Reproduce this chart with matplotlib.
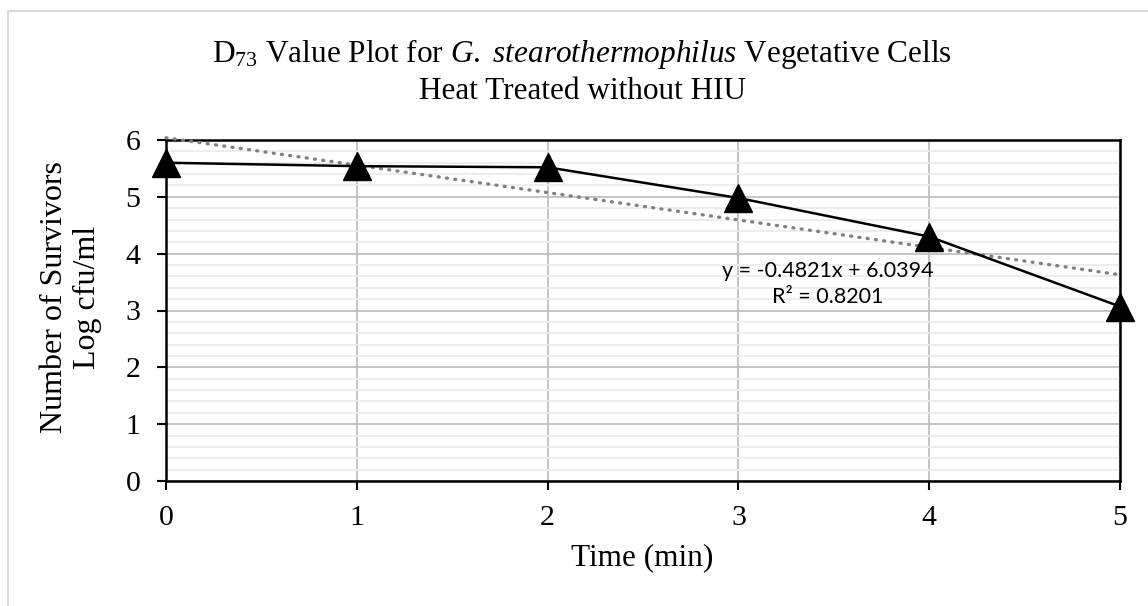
import matplotlib
matplotlib.use("Agg")
import matplotlib.pyplot as plt
from matplotlib.ticker import MultipleLocator
from matplotlib.lines import Line2D

# Data
time_min = [0, 1, 2, 3, 4, 5]
log_survivors = [5.60, 5.54, 5.52, 4.98, 4.30, 3.07]
trend_slope = -0.4821
trend_intercept = 6.0394
trend_label = "y = -0.4821x + 6.0394\nR² = 0.8201"
x_ticks = [0, 1, 2, 3, 4, 5]
y_ticks = [0, 1, 2, 3, 4, 5, 6]

plt.rcParams['font.family'] = ['Liberation Serif', 'DejaVu Serif']
plt.rcParams['mathtext.fontset'] = 'custom'
plt.rcParams['mathtext.rm'] = 'Liberation Serif'
plt.rcParams['mathtext.it'] = 'Liberation Serif:italic'

W, H = 1148, 606
fig = plt.figure(figsize=(W/100, H/100), dpi=100)
ax = fig.add_axes([166/W, 1-481/H, (1120-166)/W, (481-140)/H])

# frame lines of the chart area (top and left)
fig.add_artist(Line2D([8/W, 1], [1-11/H, 1-11/H], color='#d9d9d9', lw=1.5, transform=fig.transFigure))
fig.add_artist(Line2D([8/W, 8/W], [0, 1-11/H], color='#d9d9d9', lw=1.5, transform=fig.transFigure))

ax.set_xlim(0, 5)
ax.set_ylim(0, 6)
ax.set_xticks(x_ticks)
ax.set_yticks(y_ticks)
ax.yaxis.set_minor_locator(MultipleLocator(0.2))
ax.grid(which='major', axis='both', color='#bfbfbf', lw=1.3, zorder=0)
ax.grid(which='minor', axis='y', color='#ececec', lw=1.3, zorder=0)
ax.tick_params(which='minor', left=False)
ax.tick_params(which='major', direction='out', length=6.5, width=1.5, labelsize=21.5)
ax.tick_params(axis='y', pad=12)
ax.tick_params(axis='x', pad=11)
for s in ax.spines.values():
    s.set_linewidth(1.8)
    s.set_color('black')
ax.set_axisbelow(True)

tx = [0, 5]
ty = [trend_intercept + trend_slope * v for v in tx]
ax.plot(tx, ty, color='#808080', lw=2.4, linestyle=(0, (0.3, 2.2)), dash_capstyle='round', zorder=3, clip_on=False)
ax.plot(time_min, log_survivors, color='black', lw=1.8, marker='^', markersize=20, zorder=4, clip_on=False)

ax.text(3.47, 3.47, trend_label, ha='center', va='center', fontsize=15.5, family=['Lato', 'DejaVu Sans'], linespacing=1.35, zorder=5)

fig.text(642/W, 1-565/H, 'Time (min)', ha='center', va='baseline', fontsize=22.5)
fig.text(71/W, 1-297/H, 'Number of Survivors\nLog cfu/ml', rotation=90, ha='center', va='center',
         fontsize=23, linespacing=1.19, multialignment='center')

fig.text(582/W, 1-62/H, r"D$_{73}$ Value Plot for $\it{G.}$ $\it{stearothermophilus}$ Vegetative Cells", ha='center', va='baseline', fontsize=22.5)
fig.text(582/W, 1-99/H, "Heat Treated without HIU", ha='center', va='baseline', fontsize=22.5)

fig.savefig('out.png', dpi=100)
